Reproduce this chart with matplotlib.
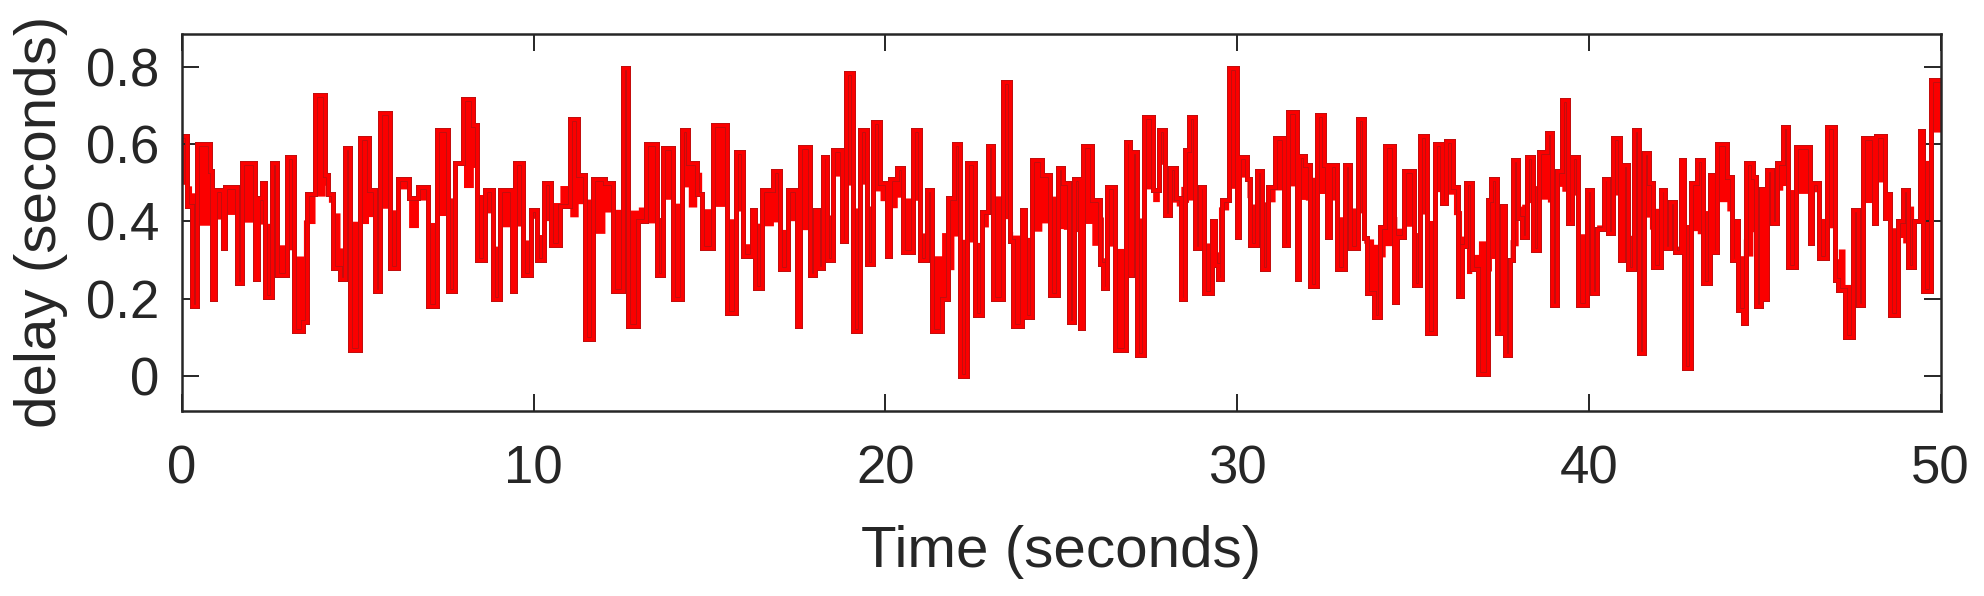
import matplotlib
matplotlib.use("Agg")
import matplotlib.pyplot as plt
import matplotlib.patheffects as pe
import numpy as np

# step start times (seconds) and delay values (seconds)
time_s = [
    0.00, 0.14, 0.28, 0.43, 0.81, 0.85, 0.95, 1.18, 1.23, 1.56, 1.71, 2.09, 2.18, 2.27, 2.37, 2.56,
    2.70, 2.99, 3.18, 3.46, 3.55, 3.79, 4.08, 4.17, 4.31, 4.50, 4.64, 4.79, 5.07, 5.31, 5.50, 5.64,
    5.92, 6.16, 6.45, 6.73, 7.01, 7.25, 7.58, 7.77, 8.01, 8.29, 8.39, 8.63, 8.86,
    9.06, 9.38, 9.47, 9.71, 9.94, 10.09, 10.30, 10.51, 10.75, 11.03, 11.27, 11.46, 11.70, 12.03,
    12.27, 12.53, 12.69, 12.98, 13.21, 13.50, 13.67, 13.97, 14.21, 14.40, 14.64, 14.78, 15.11,
    15.49, 15.77, 15.96, 16.20, 16.30, 16.49, 16.82, 17.01, 17.24, 17.50, 17.58,
    17.86, 18.00, 18.10, 18.22, 18.33, 18.50, 18.76, 18.88, 19.07, 19.28, 19.47, 19.64, 19.85,
    20.04, 20.13, 20.34, 20.51, 20.78, 20.99, 21.18, 21.32, 21.60, 21.79, 21.95, 22.11, 22.31,
    22.55, 22.74, 22.93, 23.07, 23.34, 23.55, 23.62, 23.88, 23.97, 24.16, 24.45, 24.68, 24.92,
    25.06, 25.23, 25.35, 25.54, 25.61, 25.87, 26.11, 26.20, 26.30, 26.53, 26.85, 26.96, 27.00,
    27.15, 27.34, 27.60, 27.79, 27.96, 28.10, 28.27, 28.40, 28.52, 28.62, 28.81, 28.95, 29.05,
    29.28, 29.38, 29.47, 29.57, 29.76, 29.99, 30.04, 30.28, 30.37, 30.56, 30.70, 30.89, 31.08,
    31.32, 31.46, 31.70, 31.75, 31.94, 32.08, 32.27, 32.46, 32.55, 32.65, 32.84, 33.07, 33.22,
    33.45, 33.60, 33.69, 33.88, 34.07, 34.21, 34.45, 34.54, 34.73, 35.02, 35.21, 35.40, 35.63,
    35.82, 35.95, 36.15,
    36.29, 36.38, 36.52, 36.67, 36.86, 37.14, 37.23, 37.38, 37.52, 37.61, 37.76, 37.83, 37.99,
    38.09, 38.23, 38.42, 38.59, 38.82, 38.94, 39.08, 39.23, 39.41, 39.51, 39.70, 39.94, 40.08,
    40.22, 40.43, 40.55, 40.68, 40.88, 40.98, 41.12, 41.29, 41.41, 41.57, 41.72, 41.83, 42.04,
    42.16, 42.31, 42.45, 42.61, 42.69, 42.89, 43.08, 43.25, 43.44, 43.54, 43.65, 43.92, 44.06,
    44.18, 44.25, 44.39, 44.47, 44.66, 44.75, 44.89, 44.98, 45.06, 45.20, 45.36, 45.51, 45.67,
    45.89, 46.29, 46.34, 46.53, 46.78, 47.00, 47.09, 47.28, 47.50, 47.66, 47.80, 48.09, 48.16,
    48.42, 48.47, 48.56, 48.80, 48.92, 49.08, 49.23, 49.40, 49.51, 49.72,
]
delay_s = [
    0.62, 0.44, 0.18, 0.60, 0.53, 0.20, 0.48, 0.33, 0.49, 0.24, 0.55, 0.25, 0.46, 0.50, 0.205, 0.55,
    0.26, 0.567, 0.115, 0.14, 0.47, 0.727, 0.52, 0.47, 0.28, 0.25, 0.59, 0.067, 0.615, 0.48, 0.22, 0.68,
    0.28, 0.51, 0.46, 0.49, 0.18, 0.636, 0.22, 0.55, 0.718, 0.65, 0.30, 0.48, 0.20,
    0.48, 0.22, 0.55, 0.26, 0.43, 0.30, 0.50, 0.34, 0.44, 0.664, 0.52, 0.095, 0.51, 0.50,
    0.22, 0.796, 0.13, 0.40, 0.60, 0.26, 0.59, 0.20, 0.636, 0.55, 0.47, 0.33, 0.65,
    0.164, 0.58, 0.31, 0.43, 0.227, 0.48, 0.53, 0.276, 0.48, 0.13, 0.593,
    0.26, 0.43, 0.28, 0.567, 0.30, 0.586, 0.35, 0.783, 0.115, 0.636, 0.29, 0.658, 0.50,
    0.31, 0.51, 0.537, 0.32, 0.636, 0.30, 0.48, 0.115, 0.20, 0.46, 0.60, 0.00, 0.55,
    0.158, 0.425, 0.595, 0.20, 0.76, 0.35, 0.13, 0.43, 0.153, 0.56, 0.52, 0.21, 0.537,
    0.50, 0.14, 0.51, 0.123, 0.595, 0.455, 0.29, 0.227, 0.49, 0.067, 0.606, 0.26, 0.58,
    0.054, 0.67, 0.48, 0.636, 0.416, 0.537, 0.46, 0.20, 0.586, 0.67, 0.33, 0.49, 0.214,
    0.40, 0.287, 0.25, 0.455, 0.796, 0.36, 0.567, 0.51, 0.34, 0.53, 0.278, 0.49, 0.615,
    0.34, 0.684, 0.25, 0.57, 0.546, 0.234, 0.675, 0.546, 0.36, 0.546, 0.278, 0.546, 0.33,
    0.664, 0.356, 0.214, 0.153, 0.386, 0.595, 0.192, 0.36, 0.53, 0.235, 0.62, 0.11, 0.60,
    0.447, 0.608, 0.49,
    0.207, 0.335, 0.50, 0.278, 0.005, 0.455, 0.51, 0.11, 0.44, 0.054, 0.30, 0.56, 0.41,
    0.36, 0.567, 0.326, 0.58, 0.63, 0.184, 0.53, 0.714, 0.395, 0.567, 0.184, 0.48, 0.214,
    0.38, 0.51, 0.37, 0.615, 0.30, 0.546, 0.278, 0.636, 0.06, 0.576, 0.50, 0.283, 0.48,
    0.33, 0.45, 0.32, 0.56, 0.02, 0.50, 0.56, 0.24, 0.52, 0.32, 0.60, 0.515, 0.30,
    0.40, 0.17, 0.136, 0.55, 0.515, 0.18, 0.485, 0.20, 0.533, 0.395, 0.55, 0.643, 0.283,
    0.593, 0.343, 0.50, 0.304, 0.643, 0.248, 0.222, 0.10, 0.43, 0.184, 0.615, 0.395, 0.62,
    0.41, 0.47, 0.158, 0.40, 0.48, 0.283, 0.40, 0.635, 0.22, 0.767,
]
t_end = 50.0

x_ticks = [0, 10, 20, 30, 40, 50]
x_tick_labels = ["0", "10", "20", "30", "40", "50"]
y_ticks = [0, 0.2, 0.4, 0.6, 0.8]
y_tick_labels = ["0", "0.2", "0.4", "0.6", "0.8"]
x_label = "Time (seconds)"
y_label = "delay (seconds)"

plt.rcParams['font.family'] = ['Liberation Sans', 'DejaVu Sans']

fig = plt.figure(figsize=(19.84, 5.96), dpi=100)
ax = fig.add_axes([181.7 / 1984, 1 - 410.7 / 596, 1759 / 1984, 376.7 / 596])

n = min(len(time_s), len(delay_s))
xs = np.array(list(time_s[:n]) + [t_end])
ys = np.array(list(delay_s[:n]) + [delay_s[n - 1]])
# local running level (5-sample mean) used as the inner edge of the dense band
pad = np.pad(ys, 2, mode='edge')
local = np.convolve(pad, np.ones(5) / 5, mode='valid')

red = '#fb0000'
ax.fill_between(xs, local, ys, step='post', color=red, linewidth=0)
ax.step(xs, ys, where='post', color=red, linewidth=2.4,
        solid_joinstyle='miter',
        path_effects=[pe.Stroke(linewidth=3.6, foreground='#b81010'), pe.Normal()])

ax.set_xlim(0, 50)
ax.set_ylim(-0.09, 0.885)
ax.set_xticks(x_ticks)
ax.set_xticklabels(x_tick_labels)
ax.set_yticks(y_ticks)
ax.set_yticklabels(y_tick_labels)

dark = '#262626'
for s in ax.spines.values():
    s.set_linewidth(1.8)
    s.set_color(dark)
    s.set_zorder(5)
ax.tick_params(direction='in', length=12, width=1.4, color=dark,
               labelsize=38, labelcolor=dark, top=True, right=True)
ax.tick_params(axis='x', pad=24)
ax.tick_params(axis='y', pad=16)

ax.set_xlabel(x_label, fontsize=42, color=dark, labelpad=22)
ax.set_ylabel(y_label, fontsize=42, color=dark, labelpad=13)

fig.savefig("out.png", dpi=100)
